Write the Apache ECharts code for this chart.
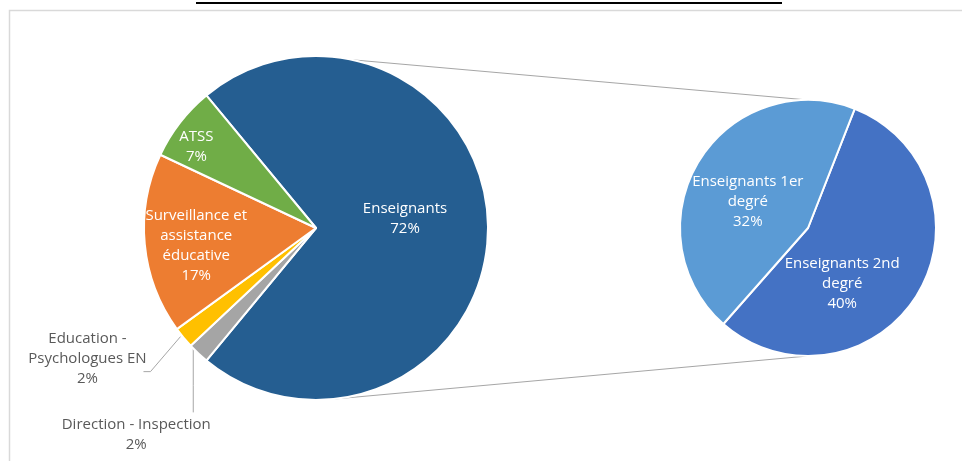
<!DOCTYPE html>
<html><head><meta charset="utf-8">
<script src="https://cdn.jsdelivr.net/npm/echarts@6/dist/echarts.min.js"></script>
<style>html,body{margin:0;padding:0;background:#fff}#c{width:962px;height:461px}</style>
</head><body><div id="c"></div>
<script>
// ---- data ----
const subNames   = ['Enseignants 2nd degré', 'Enseignants 1er degré'];
const subLabels  = ['Enseignants 2nd\ndegré', 'Enseignants 1er\ndegré'];
const subValues  = [40, 32];
const otherNames  = ['Direction - Inspection', 'Education - Psychologues EN', 'Surveillance et assistance éducative', 'ATSS'];
const otherLabels = ['Direction - Inspection', 'Education -\nPsychologues EN', 'Surveillance et\nassistance\néducative', 'ATSS'];
const otherValues = [2, 2, 17, 7];
const groupName = 'Enseignants';

// ---- derived ----
const mainNames  = [groupName].concat(otherNames);
const mainLabels = [groupName].concat(otherLabels);
const mainValues = [subValues.reduce((a, b) => a + b, 0)].concat(otherValues);
const total = mainValues.reduce((a, b) => a + b, 0);

// ---- styles / layout ----
const mainColors = ['#255E91', '#A5A5A5', '#FFC000', '#ED7D31', '#70AD47'];
const subColors  = ['#4472C4', '#5B9BD5'];
const C1 = [316, 228], R1 = 172;
const C2 = [808, 228], R2 = 128;
const FONT = '"Open Sans", "Noto Sans", sans-serif';
const startMain = mainValues[0] / total * 180;   // group slice centred on the right
const startSub = 68.6;
// inside-label placement: fraction of radius and angle tweak (deg)
const labelRadiusFrac = [0.5, 0, 0, 0.685, 0.83];
const labelAngleTweak = [0, 0, 0, 2.2, 3];

const inLabel = { color: '#fff', fontSize: 15, lineHeight: 20, fontFamily: FONT };
const outLabel = { color: '#595959', fontSize: 15, lineHeight: 20, fontFamily: FONT };

const chart = echarts.init(document.getElementById('c'), null, { renderer: 'canvas' });

function deg(a) { return a * Math.PI / 180; }
function onCircle(c, r, a) { return [c[0] + r * Math.cos(deg(a)), c[1] - r * Math.sin(deg(a))]; }
const t1 = onCircle(C1, R1, 78), t2 = onCircle(C2, R2, 90);
const b1 = onCircle(C1, R1, -84), b2 = onCircle(C2, R2, -90);

const mids = []; let acc = 0;
mainValues.forEach(v => { mids.push(startMain - (acc + v / 2) / total * 360); acc += v; });

const mainData = mainNames.map((n, i) => {
  const item = { name: n, value: mainValues[i], itemStyle: { color: mainColors[i] } };
  if (i === 1 || i === 2) {
    item.label = Object.assign({ show: true, position: 'outside', align: 'center' }, outLabel);
    item.labelLine = { show: true, length: 10, length2: 10, lineStyle: { color: '#A6A6A6', width: 1 } };
  } else {
    item.label = Object.assign({ show: true, position: 'inside' }, inLabel);
  }
  return item;
});

const option = {
  backgroundColor: '#fff',
  animation: false,
  graphic: [
    { type: 'rect', shape: { x: 9.5, y: 10.5, width: 1000, height: 500 }, style: { fill: 'none', stroke: '#D9D9D9', lineWidth: 1.5 }, z: -10 },
    { type: 'line', shape: { x1: 196, y1: 3, x2: 782, y2: 3 }, style: { stroke: '#000', lineWidth: 2 }, z: -10 },
    { type: 'line', shape: { x1: t1[0], y1: t1[1], x2: t2[0], y2: t2[1] }, style: { stroke: '#A6A6A6', lineWidth: 1 }, z: -5 },
    { type: 'line', shape: { x1: b1[0], y1: b1[1], x2: b2[0], y2: b2[1] }, style: { stroke: '#A6A6A6', lineWidth: 1 }, z: -5 }
  ],
  series: [
    {
      type: 'pie', center: C1, radius: R1, startAngle: startMain, clockwise: true,
      avoidLabelOverlap: false, silent: true,
      itemStyle: { borderColor: '#fff', borderWidth: 2 },
      label: { formatter: p => mainLabels[p.dataIndex] + '\n' + p.value + '%', overflow: 'none' },
      emphasis: { disabled: true },
      data: mainData,
      labelLayout: function (p) {
        const i = p.dataIndex;
        if (i === 1 && p.labelLinePoints) {
          const a = p.labelLinePoints[0];
          return { x: a[0] - 62, y: a[1] + 61, align: 'center', verticalAlign: 'top',
                   labelLinePoints: [[a[0] - 5, a[1] - 5], [a[0] - 5, a[1] + 32], [a[0] - 5, a[1] + 59]] };
        }
        if (i === 2 && p.labelLinePoints) {
          const a = p.labelLinePoints[0];
          return { x: a[0] - 96, y: a[1] - 9, align: 'center', verticalAlign: 'top',
                   labelLinePoints: [[a[0] - 3, a[1] - 1], [a[0] - 33, a[1] + 34], [a[0] - 40, a[1] + 34]] };
        }
        const ang = mids[i] + labelAngleTweak[i];
        const r = labelRadiusFrac[i] * R1;
        const base = 0.5 * R1;
        const dx = r * Math.cos(deg(ang)) - base * Math.cos(deg(mids[i]));
        const dy = -r * Math.sin(deg(ang)) + base * Math.sin(deg(mids[i])) + (i === 0 ? -9 : 2);
        return { dx: dx, dy: dy };
      }
    },
    {
      type: 'pie', center: C2, radius: R2, startAngle: startSub, clockwise: true,
      avoidLabelOverlap: false, silent: true,
      itemStyle: { borderColor: '#fff', borderWidth: 2 },
      label: Object.assign({ show: true, position: 'inside', formatter: p => subLabels[p.dataIndex] + '\n' + p.value + '%' }, inLabel),
      emphasis: { disabled: true },
      data: subNames.map((n, i) => ({ name: n, value: subValues[i], itemStyle: { color: subColors[i] } })),
      labelLayout: function (p) {
        if (p.dataIndex === 0) return { dx: -23, dy: 21 };
        return { dx: -3, dy: 9 };
      }
    }
  ]
};
chart.setOption(option);
</script>
</body></html>
